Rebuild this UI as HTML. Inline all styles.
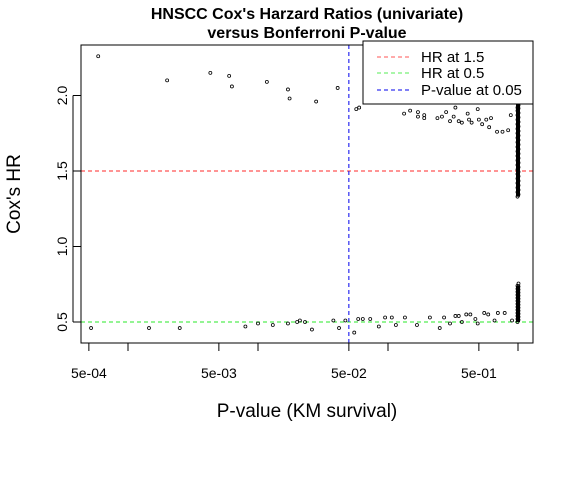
<!DOCTYPE html>
<html><head><meta charset="utf-8"><style>
body{margin:0;background:#fff}
svg{display:block;font-family:"Liberation Sans",Arial,sans-serif}
</style></head><body>
<svg id="chart" width="576" height="483" viewBox="0 0 576 483" xmlns="http://www.w3.org/2000/svg">
<rect width="576" height="483" fill="#fff"/>
<text x="307" y="19" text-anchor="middle" font-size="16" font-weight="bold">HNSCC Cox's Harzard Ratios (univariate)</text>
<text x="307" y="38" text-anchor="middle" font-size="16" font-weight="bold">versus Bonferroni P-value</text>
<text transform="translate(20,194) rotate(-90)" text-anchor="middle" font-size="19">Cox's HR</text>
<text x="307" y="417" text-anchor="middle" font-size="19">P-value (KM survival)</text>
<g id="axes"></g>
<g id="refs"></g>
<g id="points"></g>
<rect x="81" y="45" width="452" height="298" fill="none" stroke="#000" stroke-width="1"/>
<g id="legend">
<rect x="363" y="41" width="170" height="63" fill="#fff" stroke="#000"/>
<line x1="377" y1="57" x2="409" y2="57" stroke="#ff5555" stroke-dasharray="4,3"/>
<line x1="377" y1="73" x2="409" y2="73" stroke="#55ee55" stroke-dasharray="4,3"/>
<line x1="377" y1="90" x2="409" y2="90" stroke="#0000ee" stroke-dasharray="4,3"/>
<text x="421" y="62" font-size="15">HR at 1.5</text>
<text x="421" y="78" font-size="15">HR at 0.5</text>
<text x="421" y="95" font-size="15">P-value at 0.05</text>
</g>
</svg>
<script>
const pvals=[5.9e-4,2e-3,4.3e-3,6e-3,6.3e-3,1.17e-2,1.7e-2,1.75e-2,2.8e-2,4.1e-2,0.057,0.06,
0.133,0.148,0.17,0.17,0.19,0.19,0.24,0.26,0.28,0.3,0.32,0.33,0.35,0.37,0.41,0.42,0.44,0.49,0.5,0.53,0.57,0.6,0.62,0.69,0.76,0.84,0.88,
5.2e-4,1.45e-3,2.5e-3,8e-3,1e-2,1.3e-2,1.7e-2,2e-2,2.1e-2,2.3e-2,2.6e-2,3.8e-2,4.2e-2,4.7e-2,5.5e-2,0.059,0.064,0.073,0.085,0.095,0.107,0.115,0.135,0.167,0.21,0.25,0.27,0.3,0.33,0.35,0.37,0.4,0.43,0.47,0.49,0.55,0.59,0.66,0.7,0.79,0.9];
const hrs=[2.26,2.10,2.15,2.13,2.06,2.09,2.04,1.98,1.96,2.05,1.91,1.92,
1.88,1.90,1.89,1.86,1.85,1.87,1.85,1.86,1.89,1.83,1.86,1.92,1.83,1.82,1.88,1.84,1.82,1.91,1.84,1.81,1.84,1.79,1.85,1.76,1.76,1.77,1.87,
0.46,0.46,0.46,0.47,0.49,0.48,0.49,0.50,0.51,0.50,0.45,0.51,0.46,0.51,0.43,0.52,0.52,0.52,0.47,0.53,0.53,0.48,0.53,0.48,0.53,0.46,0.53,0.49,0.54,0.54,0.50,0.55,0.55,0.52,0.49,0.56,0.55,0.51,0.56,0.56,0.51];
const hrAtOne=[1.33,1.36,1.39,1.42,1.45,1.48,1.51,1.54,1.57,1.60,1.63,1.66,1.69,1.72,1.75,1.78,1.81,1.84,1.87,1.90,1.92,2.0,
0.50,0.52,0.54,0.56,0.58,0.60,0.62,0.64,0.66,0.68,0.70,0.72,0.74];
const xTickVals=[5e-4,1e-3,5e-3,1e-2,5e-2,1e-1,5e-1,1];
const xTickLabels=["5e-04","","5e-03","","5e-02","","5e-01",""];
const yTickVals=[0.5,1.0,1.5,2.0];
const yTickLabels=["0.5","1.0","1.5","2.0"];
const hrLines=[1.5,0.5];
const pLine=0.05;
const NS="http://www.w3.org/2000/svg";
const x=p=>518+130*Math.log10(p);
const y=v=>322-(v-0.5)*151;
function mk(t,a,parent){const e=document.createElementNS(NS,t);for(const k in a)e.setAttribute(k,a[k]);parent.appendChild(e);return e;}
const axes=document.getElementById('axes');
mk('line',{x1:x(xTickVals[0]),y1:343,x2:x(xTickVals[xTickVals.length-1]),y2:343,stroke:'#000'},axes);
xTickVals.forEach((v,i)=>{
  const l=mk('line',{x1:x(v),y1:343,x2:x(v),y2:351,stroke:'#000'},axes);
  
  
  if(xTickLabels[i]){const t=mk('text',{x:x(v),y:378,'text-anchor':'middle','font-size':'14'},axes);t.textContent=xTickLabels[i];
  
  }
});
mk('line',{x1:73,y1:y(yTickVals[0]),x2:73,y2:y(yTickVals[yTickVals.length-1]),stroke:'#000'},axes);
yTickVals.forEach((v,i)=>{
  const l=mk('line',{x1:73,y1:y(v),x2:81,y2:y(v),stroke:'#000'},axes);
  
  
  const t=mk('text',{transform:`translate(67,${y(v)}) rotate(-90)`,'text-anchor':'middle','font-size':'14'},axes);t.textContent=yTickLabels[i];
  
  
});
const refs=document.getElementById('refs');
const cols=['#ff5555','#55ee55'];
hrLines.forEach((h,i)=>{const l=mk('line',{x1:81,x2:533,y1:y(h),y2:y(h),stroke:cols[i],'stroke-dasharray':'4,3','stroke-width':1.2},refs);
  
  });
const pl=mk('line',{x1:x(pLine),x2:x(pLine),y1:45,y2:343,stroke:'#0000ee','stroke-dasharray':'4,3'},refs);


const pts=document.getElementById('points');
function pt(px,py){const c=mk('circle',{cx:px,cy:py,r:1.5,fill:'none',stroke:'#000','stroke-width':0.8},pts);
  
  }
pvals.forEach((p,i)=>pt(x(p),y(hrs[i])));
hrAtOne.forEach(h=>pt(x(1)-0.5,y(h)));
hrAtOne.forEach(h=>pt(x(1)+0.5,y(h+0.015)));
// dense column at p=1
const groups=[[1.33,2.0],[0.50,0.74]];
groups.forEach((g,i)=>{const r=mk('rect',{x:x(1)-2,y:y(g[1]),width:4,height:y(g[0])-y(g[1]),fill:'#000'},pts);
  
  });
</script>
</body></html>
